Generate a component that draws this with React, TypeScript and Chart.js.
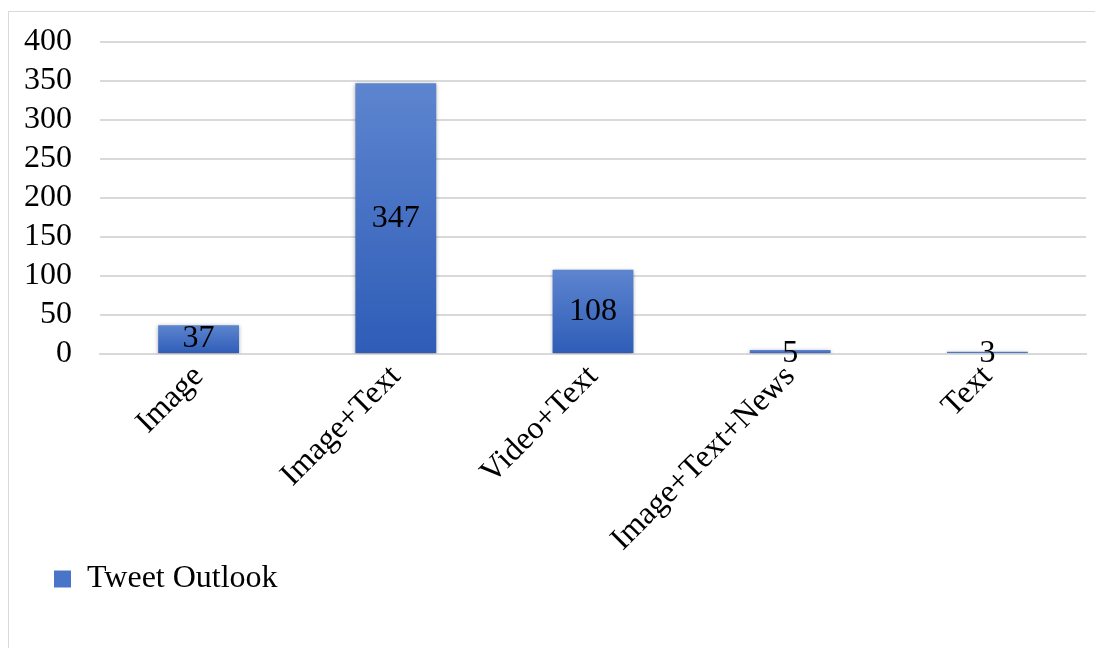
import React, { useEffect, useRef } from "react";
import { Chart, registerables } from "chart.js";

Chart.register(...registerables);

const categories = ["Image", "Image+Text", "Video+Text", "Image+Text+News", "Text"];
const tweetOutlook = [37, 347, 108, 5, 3];
const yTicks = [0, 50, 100, 150, 200, 250, 300, 350, 400];
const seriesName = "Tweet Outlook";

const FONT = '"Liberation Serif", "Times New Roman", serif';
const FS = 32;

const shadowPlugin = {
  id: "barShadow",
  beforeDatasetsDraw(chart: any) {
    const ctx = chart.ctx;
    ctx.save();
    ctx.shadowColor = "rgba(0,0,0,0.35)";
    ctx.shadowBlur = 4;
    ctx.shadowOffsetX = 0;
    ctx.shadowOffsetY = 1;
  },
  afterDatasetsDraw(chart: any) {
    chart.ctx.restore();
  },
};

const legendShift = {
  id: "legendShift",
  afterLayout(chart: any) {
    if (chart.legend) chart.legend.left += 21;
  },
};

const labelPlugin = {
  id: "barLabels",
  afterDatasetsDraw(chart: any) {
    const ctx = chart.ctx;
    const meta = chart.getDatasetMeta(0);
    ctx.save();
    ctx.fillStyle = "#000";
    ctx.font = `${FS}px ${FONT}`;
    ctx.textAlign = "center";
    ctx.textBaseline = "middle";
    meta.data.forEach((bar: any, i: number) => {
      const v = chart.data.datasets[0].data[i];
      let cy = (bar.y + bar.base) / 2;
      if (Math.abs(bar.base - bar.y) < 20) cy = bar.base + 1;
      ctx.fillText(String(v), bar.x, cy);
    });
    ctx.restore();
  },
};

export default function App() {
  const ref = useRef<HTMLCanvasElement>(null);
  useEffect(() => {
    if (!ref.current) return;
    const chart = new Chart(ref.current, {
      type: "bar",
      data: {
        labels: categories,
        datasets: [
          {
            label: seriesName,
            data: tweetOutlook,
            backgroundColor: (c: any) => {
              const chart = c.chart;
              const ys = chart.scales?.y;
              if (!ys || c.type !== "data") return "#4472c4";
              const top = ys.getPixelForValue(c.raw);
              const base = ys.getPixelForValue(0);
              if (!isFinite(top) || !isFinite(base) || base - top < 1) return "#4a74c8";
              const g = chart.ctx.createLinearGradient(0, top, 0, base);
              g.addColorStop(0, "#5d85cf");
              g.addColorStop(1, "#2e5cb7");
              return g;
            },
            borderWidth: 0,
            categoryPercentage: 0.82,
            barPercentage: 0.5,
          },
        ],
      },
      options: {
        responsive: false,
        animation: false,
        layout: { padding: { top: 30, left: 14, right: 16, bottom: 47 } },
        plugins: {
          tooltip: { enabled: false },
          legend: {
            position: "bottom",
            align: "start",
            labels: {
              color: "#000",
              font: { family: FONT, size: FS },
              boxWidth: 17,
              boxHeight: 17,
              padding: 10,
              generateLabels: () => [
                {
                  text: seriesName,
                  fillStyle: "#4a74c8",
                  strokeStyle: "#4a74c8",
                  lineWidth: 0,
                  hidden: false,
                  datasetIndex: 0,
                },
              ],
            },
          },
        },
        scales: {
          x: {
            grid: { display: false, drawTicks: false },
            border: { display: true, color: "#d9d9d9", width: 2 },
            ticks: {
              color: "#000",
              font: { family: FONT, size: FS },
              minRotation: 45,
              maxRotation: 45,
              autoSkip: false,
              padding: 4,
            },
            afterFit: (s: any) => {
              s.height = 199;
              s.paddingLeft = 0;
              s.paddingRight = 0;
            },
          },
          y: {
            min: 0,
            max: 400,
            afterBuildTicks: (s: any) => {
              s.ticks = yTicks.map((v) => ({ value: v }));
            },
            afterFit: (s: any) => {
              s.width = 77;
              s.paddingTop = 0;
              s.paddingBottom = 0;
            },
            grid: { color: "#d9d9d9", lineWidth: 2, drawTicks: false },
            border: { display: false },
            ticks: {
              color: "#000",
              font: { family: FONT, size: FS },
              padding: 28,
              autoSkip: false,
            },
          },
        },
      },
      plugins: [shadowPlugin, labelPlugin, legendShift],
    });
    return () => chart.destroy();
  }, []);
  return (
    <div
      style={{
        border: "1px solid #d9d9d9",
        marginTop: 3,
        width: 1120,
        height: 700,
        boxSizing: "border-box",
      }}
    >
      <canvas ref={ref} width={1093} height={640} style={{ display: "block" }} />
    </div>
  );
}
